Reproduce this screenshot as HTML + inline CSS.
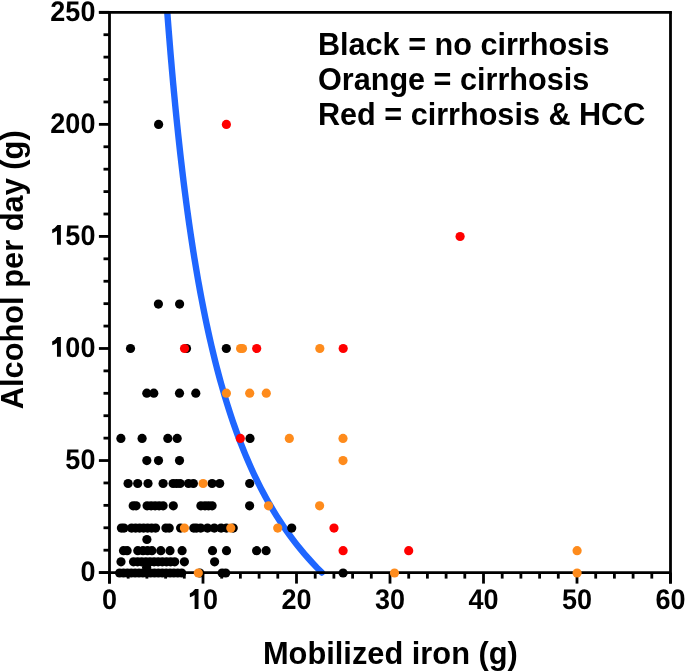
<!DOCTYPE html>
<html><head><meta charset="utf-8"><style>
html,body{margin:0;padding:0;background:#fff;}
svg{display:block;}
.t{will-change:transform;}
text{font-family:"Liberation Sans",sans-serif;font-weight:bold;fill:#000;}
</style></head><body>
<svg style="will-change:transform" width="685" height="671" viewBox="0 0 685 671">
<rect width="685" height="671" fill="#fff"/>
<defs><clipPath id="c"><rect x="0" y="12.3" width="685" height="600"/></clipPath></defs>
<path d="M167.29,12.30 L167.64,17.01 L168.00,21.72 L168.37,26.43 L168.74,31.13 L169.11,35.84 L169.49,40.55 L169.87,45.26 L170.26,49.97 L170.65,54.68 L171.05,59.38 L171.46,64.09 L171.86,68.80 L172.28,73.51 L172.70,78.22 L173.12,82.93 L173.56,87.63 L173.99,92.34 L174.44,97.05 L174.89,101.76 L175.34,106.47 L175.80,111.18 L176.27,115.88 L176.75,120.59 L177.23,125.30 L177.72,130.01 L178.21,134.72 L178.72,139.43 L179.23,144.14 L179.75,148.84 L180.27,153.55 L180.81,158.26 L181.35,162.97 L181.90,167.68 L182.46,172.39 L183.03,177.09 L183.60,181.80 L184.19,186.51 L184.78,191.22 L185.39,195.93 L186.00,200.64 L186.63,205.34 L187.26,210.05 L187.91,214.76 L188.56,219.47 L189.23,224.18 L189.91,228.89 L190.60,233.59 L191.30,238.30 L192.02,243.01 L192.74,247.72 L193.48,252.43 L194.24,257.14 L195.00,261.85 L195.78,266.55 L196.58,271.26 L197.39,275.97 L198.21,280.68 L199.06,285.39 L199.91,290.10 L200.79,294.80 L201.68,299.51 L202.58,304.22 L203.51,308.93 L204.46,313.64 L205.42,318.35 L206.40,323.05 L207.41,327.76 L208.43,332.47 L209.48,337.18 L210.55,341.89 L211.64,346.60 L212.76,351.31 L213.90,356.01 L215.06,360.72 L216.26,365.43 L217.48,370.14 L218.73,374.85 L220.00,379.56 L221.31,384.26 L222.65,388.97 L224.02,393.68 L225.43,398.39 L226.87,403.10 L228.34,407.81 L229.86,412.51 L231.41,417.22 L233.00,421.93 L234.64,426.64 L236.32,431.35 L238.04,436.06 L239.82,440.76 L241.64,445.47 L243.51,450.18 L245.44,454.89 L247.42,459.60 L249.47,464.31 L251.57,469.02 L253.74,473.72 L255.98,478.43 L258.28,483.14 L260.66,487.85 L263.12,492.56 L265.66,497.27 L268.28,501.97 L271.00,506.68 L273.81,511.39 L276.71,516.10 L279.73,520.81 L282.85,525.52 L286.09,530.22 L289.45,534.93 L292.95,539.64 L296.58,544.35 L300.36,549.06 L304.29,553.77 L308.39,558.47 L312.67,563.18 L317.13,567.89 L321.80,572.60" fill="none" stroke="#1F66FF" stroke-width="6.4" stroke-linecap="round" clip-path="url(#c)"/>
<g stroke="#000" stroke-width="2.8" stroke-linecap="butt"><line x1="109.5" y1="12.3" x2="109.5" y2="583.6" /><line x1="98.9" y1="572.6" x2="670.5" y2="572.6" /><line x1="98.9" y1="12.3" x2="671.9" y2="12.3" /><line x1="670.5" y1="12.3" x2="670.5" y2="583.6" /><line x1="98.9" y1="572.60" x2="109.5" y2="572.60" /><line x1="103.5" y1="550.19" x2="109.5" y2="550.19" /><line x1="103.5" y1="527.78" x2="109.5" y2="527.78" /><line x1="103.5" y1="505.36" x2="109.5" y2="505.36" /><line x1="103.5" y1="482.95" x2="109.5" y2="482.95" /><line x1="98.9" y1="460.54" x2="109.5" y2="460.54" /><line x1="103.5" y1="438.13" x2="109.5" y2="438.13" /><line x1="103.5" y1="415.72" x2="109.5" y2="415.72" /><line x1="103.5" y1="393.30" x2="109.5" y2="393.30" /><line x1="103.5" y1="370.89" x2="109.5" y2="370.89" /><line x1="98.9" y1="348.48" x2="109.5" y2="348.48" /><line x1="103.5" y1="326.07" x2="109.5" y2="326.07" /><line x1="103.5" y1="303.66" x2="109.5" y2="303.66" /><line x1="103.5" y1="281.24" x2="109.5" y2="281.24" /><line x1="103.5" y1="258.83" x2="109.5" y2="258.83" /><line x1="98.9" y1="236.42" x2="109.5" y2="236.42" /><line x1="103.5" y1="214.01" x2="109.5" y2="214.01" /><line x1="103.5" y1="191.60" x2="109.5" y2="191.60" /><line x1="103.5" y1="169.18" x2="109.5" y2="169.18" /><line x1="103.5" y1="146.77" x2="109.5" y2="146.77" /><line x1="98.9" y1="124.36" x2="109.5" y2="124.36" /><line x1="103.5" y1="101.95" x2="109.5" y2="101.95" /><line x1="103.5" y1="79.54" x2="109.5" y2="79.54" /><line x1="103.5" y1="57.12" x2="109.5" y2="57.12" /><line x1="103.5" y1="34.71" x2="109.5" y2="34.71" /><line x1="98.9" y1="12.30" x2="109.5" y2="12.30" /><line x1="109.50" y1="572.6" x2="109.50" y2="583.6" /><line x1="128.20" y1="572.6" x2="128.20" y2="578.6" /><line x1="146.90" y1="572.6" x2="146.90" y2="578.6" /><line x1="165.60" y1="572.6" x2="165.60" y2="578.6" /><line x1="184.30" y1="572.6" x2="184.30" y2="578.6" /><line x1="203.00" y1="572.6" x2="203.00" y2="583.6" /><line x1="221.70" y1="572.6" x2="221.70" y2="578.6" /><line x1="240.40" y1="572.6" x2="240.40" y2="578.6" /><line x1="259.10" y1="572.6" x2="259.10" y2="578.6" /><line x1="277.80" y1="572.6" x2="277.80" y2="578.6" /><line x1="296.50" y1="572.6" x2="296.50" y2="583.6" /><line x1="315.20" y1="572.6" x2="315.20" y2="578.6" /><line x1="333.90" y1="572.6" x2="333.90" y2="578.6" /><line x1="352.60" y1="572.6" x2="352.60" y2="578.6" /><line x1="371.30" y1="572.6" x2="371.30" y2="578.6" /><line x1="390.00" y1="572.6" x2="390.00" y2="583.6" /><line x1="408.70" y1="572.6" x2="408.70" y2="578.6" /><line x1="427.40" y1="572.6" x2="427.40" y2="578.6" /><line x1="446.10" y1="572.6" x2="446.10" y2="578.6" /><line x1="464.80" y1="572.6" x2="464.80" y2="578.6" /><line x1="483.50" y1="572.6" x2="483.50" y2="583.6" /><line x1="502.20" y1="572.6" x2="502.20" y2="578.6" /><line x1="520.90" y1="572.6" x2="520.90" y2="578.6" /><line x1="539.60" y1="572.6" x2="539.60" y2="578.6" /><line x1="558.30" y1="572.6" x2="558.30" y2="578.6" /><line x1="577.00" y1="572.6" x2="577.00" y2="583.6" /><line x1="595.70" y1="572.6" x2="595.70" y2="578.6" /><line x1="614.40" y1="572.6" x2="614.40" y2="578.6" /><line x1="633.10" y1="572.6" x2="633.10" y2="578.6" /><line x1="651.80" y1="572.6" x2="651.80" y2="578.6" /><line x1="670.50" y1="572.6" x2="670.50" y2="583.6" /></g>
<g fill="#000"><circle cx="119.6" cy="573.0" r="4.6"/><circle cx="123.5" cy="573.0" r="4.6"/><circle cx="127.4" cy="573.0" r="4.6"/><circle cx="131.2" cy="573.0" r="4.6"/><circle cx="135.1" cy="573.0" r="4.6"/><circle cx="139.0" cy="573.0" r="4.6"/><circle cx="142.9" cy="573.0" r="4.6"/><circle cx="146.8" cy="573.0" r="4.6"/><circle cx="150.6" cy="573.0" r="4.6"/><circle cx="154.5" cy="573.0" r="4.6"/><circle cx="158.4" cy="573.0" r="4.6"/><circle cx="162.3" cy="573.0" r="4.6"/><circle cx="166.2" cy="573.0" r="4.6"/><circle cx="170.1" cy="573.0" r="4.6"/><circle cx="173.9" cy="573.0" r="4.6"/><circle cx="177.8" cy="573.0" r="4.6"/><circle cx="181.7" cy="573.0" r="4.6"/><circle cx="199.8" cy="573.0" r="4.6"/><circle cx="222.1" cy="573.0" r="4.6"/><circle cx="225.7" cy="573.0" r="4.6"/><circle cx="343.1" cy="573.0" r="4.6"/><circle cx="146.6" cy="567.3" r="4.6"/><circle cx="121.0" cy="561.8" r="4.6"/><circle cx="133.5" cy="561.8" r="4.6"/><circle cx="137.6" cy="561.8" r="4.6"/><circle cx="141.7" cy="561.8" r="4.6"/><circle cx="145.9" cy="561.8" r="4.6"/><circle cx="150.0" cy="561.8" r="4.6"/><circle cx="154.1" cy="561.8" r="4.6"/><circle cx="158.2" cy="561.8" r="4.6"/><circle cx="162.3" cy="561.8" r="4.6"/><circle cx="166.5" cy="561.8" r="4.6"/><circle cx="170.6" cy="561.8" r="4.6"/><circle cx="174.7" cy="561.8" r="4.6"/><circle cx="184.4" cy="561.8" r="4.6"/><circle cx="214.6" cy="561.8" r="4.6"/><circle cx="123.5" cy="550.7" r="4.6"/><circle cx="127.1" cy="550.7" r="4.6"/><circle cx="137.8" cy="550.7" r="4.6"/><circle cx="143.0" cy="550.7" r="4.6"/><circle cx="147.5" cy="550.7" r="4.6"/><circle cx="151.9" cy="550.7" r="4.6"/><circle cx="160.8" cy="550.7" r="4.6"/><circle cx="170.0" cy="550.7" r="4.6"/><circle cx="182.1" cy="550.7" r="4.6"/><circle cx="212.5" cy="550.7" r="4.6"/><circle cx="226.5" cy="550.7" r="4.6"/><circle cx="256.6" cy="550.7" r="4.6"/><circle cx="266.1" cy="550.7" r="4.6"/><circle cx="146.9" cy="539.5" r="4.6"/><circle cx="121.4" cy="528.1" r="4.6"/><circle cx="124.0" cy="528.1" r="4.6"/><circle cx="131.6" cy="528.1" r="4.6"/><circle cx="135.6" cy="528.1" r="4.6"/><circle cx="139.6" cy="528.1" r="4.6"/><circle cx="143.6" cy="528.1" r="4.6"/><circle cx="147.6" cy="528.1" r="4.6"/><circle cx="151.6" cy="528.1" r="4.6"/><circle cx="155.6" cy="528.1" r="4.6"/><circle cx="165.9" cy="528.1" r="4.6"/><circle cx="169.2" cy="528.1" r="4.6"/><circle cx="180.6" cy="528.1" r="4.6"/><circle cx="193.8" cy="528.1" r="4.6"/><circle cx="196.5" cy="528.1" r="4.6"/><circle cx="200.7" cy="528.1" r="4.6"/><circle cx="207.5" cy="528.1" r="4.6"/><circle cx="214.3" cy="528.1" r="4.6"/><circle cx="221.1" cy="528.1" r="4.6"/><circle cx="226.5" cy="528.1" r="4.6"/><circle cx="233.2" cy="528.1" r="4.6"/><circle cx="291.7" cy="528.1" r="4.6"/><circle cx="133.2" cy="505.8" r="4.6"/><circle cx="136.1" cy="505.8" r="4.6"/><circle cx="147.1" cy="505.8" r="4.6"/><circle cx="151.1" cy="505.8" r="4.6"/><circle cx="155.1" cy="505.8" r="4.6"/><circle cx="159.1" cy="505.8" r="4.6"/><circle cx="163.1" cy="505.8" r="4.6"/><circle cx="173.3" cy="505.8" r="4.6"/><circle cx="200.9" cy="505.8" r="4.6"/><circle cx="205.0" cy="505.8" r="4.6"/><circle cx="208.5" cy="505.8" r="4.6"/><circle cx="212.1" cy="505.8" r="4.6"/><circle cx="249.6" cy="505.8" r="4.6"/><circle cx="128.1" cy="483.5" r="4.6"/><circle cx="137.7" cy="483.5" r="4.6"/><circle cx="148.0" cy="483.5" r="4.6"/><circle cx="163.1" cy="483.5" r="4.6"/><circle cx="173.1" cy="483.5" r="4.6"/><circle cx="176.6" cy="483.5" r="4.6"/><circle cx="180.1" cy="483.5" r="4.6"/><circle cx="188.5" cy="483.5" r="4.6"/><circle cx="193.4" cy="483.5" r="4.6"/><circle cx="212.1" cy="483.5" r="4.6"/><circle cx="219.7" cy="483.5" r="4.6"/><circle cx="249.7" cy="483.5" r="4.6"/><circle cx="146.8" cy="460.6" r="4.6"/><circle cx="158.5" cy="460.6" r="4.6"/><circle cx="179.5" cy="460.6" r="4.6"/><circle cx="120.9" cy="438.4" r="4.6"/><circle cx="142.1" cy="438.4" r="4.6"/><circle cx="167.8" cy="438.4" r="4.6"/><circle cx="177.2" cy="438.4" r="4.6"/><circle cx="250.0" cy="438.4" r="4.6"/><circle cx="146.8" cy="393.2" r="4.6"/><circle cx="153.8" cy="393.2" r="4.6"/><circle cx="179.5" cy="393.2" r="4.6"/><circle cx="195.8" cy="393.2" r="4.6"/><circle cx="130.5" cy="348.5" r="4.6"/><circle cx="186.5" cy="348.5" r="4.6"/><circle cx="226.3" cy="348.5" r="4.6"/><circle cx="158.4" cy="304.1" r="4.6"/><circle cx="179.6" cy="304.1" r="4.6"/><circle cx="158.6" cy="124.4" r="4.6"/></g>
<g fill="#FE8B1C"><circle cx="198.3" cy="573.0" r="4.6"/><circle cx="394.5" cy="573.0" r="4.6"/><circle cx="577.1" cy="573.0" r="4.6"/><circle cx="577.1" cy="550.7" r="4.6"/><circle cx="184.4" cy="528.1" r="4.6"/><circle cx="230.8" cy="528.1" r="4.6"/><circle cx="277.7" cy="528.1" r="4.6"/><circle cx="268.5" cy="505.8" r="4.6"/><circle cx="319.6" cy="505.8" r="4.6"/><circle cx="203.1" cy="483.5" r="4.6"/><circle cx="343.0" cy="460.6" r="4.6"/><circle cx="289.3" cy="438.4" r="4.6"/><circle cx="343.0" cy="438.4" r="4.6"/><circle cx="226.4" cy="393.2" r="4.6"/><circle cx="249.7" cy="393.2" r="4.6"/><circle cx="266.3" cy="393.2" r="4.6"/><circle cx="240.6" cy="348.5" r="4.6"/><circle cx="242.5" cy="348.5" r="4.6"/><circle cx="319.8" cy="348.5" r="4.6"/></g>
<g fill="#FF0000"><circle cx="343.1" cy="550.7" r="4.6"/><circle cx="408.7" cy="550.7" r="4.6"/><circle cx="334.0" cy="528.1" r="4.6"/><circle cx="240.3" cy="438.4" r="4.6"/><circle cx="184.5" cy="348.5" r="4.6"/><circle cx="256.7" cy="348.5" r="4.6"/><circle cx="343.2" cy="348.5" r="4.6"/><circle cx="460.1" cy="236.5" r="4.6"/><circle cx="226.4" cy="124.4" r="4.6"/></g>
<g font-size="27" text-rendering="geometricPrecision"><text transform="translate(80.38,580.90) scale(1,1.05)">0</text><text transform="translate(65.37,468.84) scale(1,1.05)">5</text><text transform="translate(80.38,468.84) scale(1,1.05)">0</text><path transform="translate(50.35,356.78) scale(27,-28.35)" d="M0.39,0 L0.245,0 L0.245,0.49 Q0.17,0.435 0.072,0.408 L0.066,0.54 Q0.175,0.585 0.262,0.70 L0.39,0.70 Z"/><text transform="translate(65.37,356.78) scale(1,1.05)">0</text><text transform="translate(80.38,356.78) scale(1,1.05)">0</text><path transform="translate(50.35,244.72) scale(27,-28.35)" d="M0.39,0 L0.245,0 L0.245,0.49 Q0.17,0.435 0.072,0.408 L0.066,0.54 Q0.175,0.585 0.262,0.70 L0.39,0.70 Z"/><text transform="translate(65.37,244.72) scale(1,1.05)">5</text><text transform="translate(80.38,244.72) scale(1,1.05)">0</text><text transform="translate(50.35,132.66) scale(1,1.05)">2</text><text transform="translate(65.37,132.66) scale(1,1.05)">0</text><text transform="translate(80.38,132.66) scale(1,1.05)">0</text><text transform="translate(50.35,20.60) scale(1,1.05)">2</text><text transform="translate(65.37,20.60) scale(1,1.05)">5</text><text transform="translate(80.38,20.60) scale(1,1.05)">0</text><text transform="translate(101.99,608.90) scale(1,1.05)">0</text><path transform="translate(187.98,608.90) scale(27,-28.35)" d="M0.39,0 L0.245,0 L0.245,0.49 Q0.17,0.435 0.072,0.408 L0.066,0.54 Q0.175,0.585 0.262,0.70 L0.39,0.70 Z"/><text transform="translate(203.00,608.90) scale(1,1.05)">0</text><text transform="translate(281.48,608.90) scale(1,1.05)">2</text><text transform="translate(296.50,608.90) scale(1,1.05)">0</text><text transform="translate(374.98,608.90) scale(1,1.05)">3</text><text transform="translate(390.00,608.90) scale(1,1.05)">0</text><text transform="translate(468.48,608.90) scale(1,1.05)">4</text><text transform="translate(483.50,608.90) scale(1,1.05)">0</text><text transform="translate(561.98,608.90) scale(1,1.05)">5</text><text transform="translate(577.00,608.90) scale(1,1.05)">0</text><text transform="translate(655.48,608.90) scale(1,1.05)">6</text><text transform="translate(670.50,608.90) scale(1,1.05)">0</text></g>
<text x="390.4" y="664.3" font-size="30.8" text-anchor="middle">Mobilized iron (g)</text>
<text transform="translate(22.6,269.8) rotate(-90)" font-size="30.8" text-anchor="middle">Alcohol per day (g)</text>
<g font-size="30.6">
<text x="318" y="54.8">Black = no cirrhosis</text>
<text x="318" y="89.8">Orange = cirrhosis</text>
<text x="318" y="124.8">Red = cirrhosis &amp; HCC</text>
</g>
</svg>
</body></html>
